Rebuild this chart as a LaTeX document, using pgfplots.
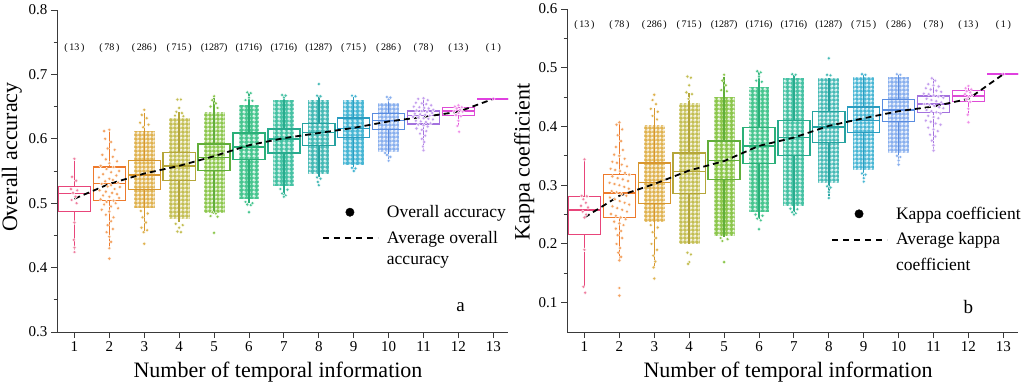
\documentclass[border=0pt]{standalone}
\usepackage{pgfplots}
\pgfplotsset{compat=1.18}
\usepgfplotslibrary{statistics}
\usetikzlibrary{patterns.meta}
\usepackage{fontspec}
\setmainfont{Liberation Serif}

\definecolor{axgray}{HTML}{3A3A3A}
\definecolor{b1}{HTML}{E8457A}\definecolor{d1}{HTML}{EF7FA0}
\definecolor{b2}{HTML}{EE7A2C}\definecolor{d2}{HTML}{F4A260}
\definecolor{b3}{HTML}{D8962E}\definecolor{d3}{HTML}{DFB24E}
\definecolor{b4}{HTML}{B5A63A}\definecolor{d4}{HTML}{C4BE52}
\definecolor{b5}{HTML}{62AE3A}\definecolor{d5}{HTML}{8CC74C}
\definecolor{b6}{HTML}{2BB079}\definecolor{d6}{HTML}{48C690}
\definecolor{b7}{HTML}{28AB8E}\definecolor{d7}{HTML}{46C2A4}
\definecolor{b8}{HTML}{26A2A0}\definecolor{d8}{HTML}{46BAB6}
\definecolor{b9}{HTML}{2A9CC0}\definecolor{d9}{HTML}{47B6D4}
\definecolor{b10}{HTML}{5A8CE0}\definecolor{d10}{HTML}{88AFEE}
\definecolor{b11}{HTML}{A472DE}\definecolor{d11}{HTML}{C49EEE}
\definecolor{b12}{HTML}{DE4CD6}\definecolor{d12}{HTML}{F08EE8}
\definecolor{b13}{HTML}{E040E0}

\tikzdeclarepattern{
  name=wdots,
  type=uncolored,
  bottom left={(0pt,0pt)},
  top right={(4.4pt,4.4pt)},
  tile size={(4.4pt,4.4pt)},
  code={
    \pgfsetlinewidth{0.7pt}
    \pgfpathcircle{\pgfpoint{2.2pt}{2.2pt}}{1.4pt}
    \pgfusepath{stroke}
  }
}

\pgfplotsset{
  myaxis/.style={
    scale only axis, width=451pt,
    xmin=0.5, xmax=13.42,
    axis lines*=left,
    axis line style={line width=1pt, color=axgray},
    tick align=outside,
    tick style={line width=0.9pt, color=axgray},
    major tick length=6pt, minor tick length=3.5pt,
    xtick={1,...,13},
    minor y tick num=1,
    /pgf/number format/assume math mode=true,
    tick label style={font=\fontsize{15}{17}\selectfont},
    yticklabel style={/pgf/number format/.cd, fixed, fixed zerofill, precision=1},
    label style={font=\fontsize{22}{26}\selectfont},
    xlabel={Number of temporal information},
    x label style={at={(axis description cs:0.49,-0.125)}, anchor=center},
    legend style={draw=none, fill=none, inner sep=0pt, row sep=8pt,
      font=\fontsize{17.5}{20}\selectfont},
    legend cell align=left,
  },
  col/.style={fill=#1, draw=none, forget plot, postaction={pattern=wdots, pattern color=white}},
  dots/.style={only marks, mark=*, mark size=1.8pt, forget plot,
    mark options={fill=#1, draw=white, line width=0.35pt}},
  bx/.style={draw=#1, line width=1.4pt, solid, forget plot},
  bp/.style n args={6}{boxplot prepared={draw direction=y, draw position=#1,
    lower whisker=#2, lower quartile=#3, median=#4, upper quartile=#5,
    upper whisker=#6, box extend=0.92, whisker extend=0}},
  meanline/.style={black, line width=1.8pt, dash pattern=on 6pt off 4pt, forget plot},
  counts/.style={draw=none, mark=none, forget plot, nodes near coords,
    point meta=explicit symbolic,
    nodes near coords style={anchor=center, font=\fontsize{10}{11}\selectfont, text=black}},
}

\begin{document}
\begin{tikzpicture}
\useasboundingbox (0,0) rectangle (1032pt,386pt);

% ---------------- panel a ----------------
\begin{axis}[myaxis, at={(57pt,54pt)}, anchor=south west, height=322pt,
  ymin=0.3, ymax=0.8, ytick={0.3,0.4,0.5,0.6,0.7,0.8},
  ylabel={Overall accuracy},
  y label style={at={(axis description cs:-0.10,0.543)}, anchor=center},
  legend style={at={(axis description cs:0.587,0.40)}, anchor=north west}]

\addplot[col=d3] coordinates {(2.7,0.492)(3.3,0.492)(3.3,0.612)(2.7,0.612)};
\addplot[col=d4] coordinates {(3.7,0.475)(4.3,0.475)(4.3,0.632)(3.7,0.632)};
\addplot[col=d5] coordinates {(4.7,0.485)(5.3,0.485)(5.3,0.642)(4.7,0.642)};
\addplot[col=d6] coordinates {(5.7,0.506)(6.3,0.506)(6.3,0.653)(5.7,0.653)};
\addplot[col=d7] coordinates {(6.7,0.526)(7.3,0.526)(7.3,0.660)(6.7,0.660)};
\addplot[col=d8] coordinates {(7.7,0.546)(8.3,0.546)(8.3,0.660)(7.7,0.660)};
\addplot[col=d9] coordinates {(8.7,0.559)(9.3,0.559)(9.3,0.660)(8.7,0.660)};
\addplot[col=d10] coordinates {(9.7,0.580)(10.3,0.580)(10.3,0.656)(9.7,0.656)};

\addplot[dots=d1] coordinates {(1.0,0.569)(0.93,0.541)(1.05,0.535)(0.9,0.522)(1.08,0.52)(0.96,0.516)(1.03,0.51)(0.92,0.505)(1.06,0.5)(1.0,0.47)(0.98,0.443)(1.0,0.431)(1.0,0.424)};
\addplot[dots=d2] coordinates {(1.85,0.612)(2.0,0.614)(1.88,0.600)(2.05,0.595)(1.95,0.585)(2.15,0.583)(1.8,0.575)(2.1,0.572)(1.9,0.568)(2.22,0.565)(2.0,0.562)(1.75,0.558)(2.12,0.556)(1.92,0.553)(2.28,0.550)(2.05,0.548)(1.82,0.545)(2.2,0.543)(1.7,0.540)(2.0,0.538)(2.1,0.536)(1.88,0.534)(2.25,0.532)(1.78,0.530)(2.05,0.528)(1.95,0.526)(2.3,0.525)(2.15,0.522)(1.72,0.520)(1.9,0.518)(2.08,0.516)(2.22,0.514)(1.82,0.512)(2.0,0.510)(2.28,0.508)(1.75,0.506)(2.12,0.504)(1.92,0.502)(2.18,0.500)(1.85,0.498)(2.05,0.495)(2.25,0.492)(1.78,0.490)(2.0,0.487)(1.9,0.482)(2.12,0.478)(2.05,0.472)(1.95,0.466)(2.1,0.460)(1.92,0.455)(2.0,0.448)(2.05,0.440)(2.0,0.430)(2.0,0.414)};
\addplot[dots=d3] coordinates {(3.00,0.645)(2.93,0.637)(3.07,0.632)(2.88,0.625)(3.12,0.622)(2.97,0.618)(2.9,0.488)(3.1,0.484)(2.95,0.478)(3.05,0.470)(2.92,0.462)(3.08,0.458)(2.98,0.455)(3.0,0.437)};
\addplot[dots=d4] coordinates {(3.95,0.661)(4.05,0.661)(4.0,0.648)(3.92,0.642)(4.08,0.64)(3.88,0.636)(4.12,0.635)(3.9,0.468)(4.1,0.466)(4.0,0.462)(3.95,0.456)(4.05,0.455)};
\addplot[dots=d5] coordinates {(5.0,0.666)(4.95,0.66)(5.05,0.655)(4.9,0.65)(5.1,0.648)(4.9,0.48)(5.1,0.479)(4.95,0.486)(5.05,0.484)(5.0,0.454)};
\addplot[dots=d6] coordinates {(5.95,0.672)(6.05,0.671)(6.0,0.664)(5.9,0.660)(6.1,0.659)(5.9,0.502)(6.1,0.500)(5.95,0.498)(6.05,0.497)(6.0,0.486)};
\addplot[dots=d7] coordinates {(6.95,0.668)(7.05,0.667)(7.0,0.664)(6.9,0.522)(7.1,0.521)(6.95,0.515)(7.05,0.512)(7.0,0.510)};
\addplot[dots=d8] coordinates {(8.0,0.685)(7.95,0.667)(8.05,0.666)(7.95,0.54)(8.05,0.538)(8.0,0.528)(7.97,0.533)};
\addplot[dots=d9] coordinates {(8.95,0.667)(9.05,0.666)(8.95,0.555)(9.05,0.554)(9.0,0.550)};
\addplot[dots=d10] coordinates {(9.95,0.665)(10.05,0.664)(10.0,0.661)(9.95,0.575)(10.05,0.572)(10.0,0.566)(9.9,0.578)};
\addplot[dots=d11] coordinates {(10.85,0.662)(11.0,0.663)(11.12,0.660)(10.78,0.656)(10.95,0.655)(11.08,0.654)(11.22,0.652)(10.72,0.650)(10.88,0.649)(11.02,0.648)(11.15,0.647)(11.28,0.645)(10.8,0.644)(10.95,0.643)(11.1,0.642)(11.25,0.640)(10.75,0.639)(10.9,0.638)(11.05,0.637)(11.18,0.636)(10.7,0.634)(10.85,0.633)(11.0,0.632)(11.14,0.631)(11.27,0.630)(10.78,0.628)(10.92,0.627)(11.07,0.626)(11.2,0.624)(10.85,0.622)(11.0,0.621)(11.12,0.619)(10.8,0.616)(10.95,0.614)(11.08,0.612)(10.9,0.608)(11.05,0.605)(10.95,0.600)(11.02,0.595)(10.98,0.588)(11.0,0.582)};
\addplot[dots=d12] coordinates {(12.0,0.652)(11.9,0.650)(12.1,0.649)(11.95,0.647)(12.05,0.645)(11.88,0.643)(12.12,0.642)(12.0,0.640)(11.93,0.637)(12.07,0.635)(12.0,0.628)(11.97,0.62)(12.02,0.611)};
\addplot[dots=b13] coordinates {(13,0.662)};

\addplot[bx=b1, bp={1}{0.428}{0.487}{0.515}{0.526}{0.569}] coordinates {};
\addplot[bx=b2, bp={2}{0.429}{0.504}{0.531}{0.556}{0.614}] coordinates {};
\addplot[bx=b3, bp={3}{0.454}{0.521}{0.544}{0.566}{0.640}] coordinates {};
\addplot[bx=b4, bp={4}{0.471}{0.535}{0.558}{0.579}{0.642}] coordinates {};
\addplot[bx=b5, bp={5}{0.484}{0.551}{0.571}{0.592}{0.663}] coordinates {};
\addplot[bx=b6, bp={6}{0.500}{0.568}{0.587}{0.609}{0.671}] coordinates {};
\addplot[bx=b7, bp={7}{0.510}{0.578}{0.600}{0.615}{0.668}] coordinates {};
\addplot[bx=b8, bp={8}{0.541}{0.590}{0.610}{0.624}{0.668}] coordinates {};
\addplot[bx=b9, bp={9}{0.552}{0.602}{0.616}{0.632}{0.665}] coordinates {};
\addplot[bx=b10, bp={10}{0.566}{0.614}{0.628}{0.639}{0.665}] coordinates {};
\addplot[bx=b11, bp={11}{0.582}{0.623}{0.636}{0.643}{0.663}] coordinates {};
\addplot[bx=b12, bp={12}{0.620}{0.636}{0.643}{0.649}{0.652}] coordinates {};
\addplot[bx=b13, bp={13}{0.662}{0.662}{0.662}{0.662}{0.662}] coordinates {};

\addplot[meanline] coordinates {(1,0.507)(2,0.530)(3,0.546)(4,0.558)(5,0.573)(6,0.590)(7,0.601)(8,0.609)(9,0.617)(10,0.627)(11,0.634)(12,0.642)(13,0.662)};

\addplot[counts] coordinates {(1,0.741)[(\,13\,)] (2,0.741)[(\,78\,)] (3,0.741)[(\,286\,)] (4,0.741)[(\,715\,)] (5,0.741)[(1287)] (6,0.741)[(1716)] (7,0.741)[(1716)] (8,0.741)[(1287)] (9,0.741)[(\,715\,)] (10,0.741)[(\,286\,)] (11,0.741)[(\,78\,)] (12,0.741)[(\,13\,)] (13,0.741)[(\,1\,)]};

\addlegendimage{legend image code/.code={\fill[black] (27pt,0pt) circle (4.2pt); \path[draw=none] (0pt,0pt) -- (62pt,0pt);}}
\addlegendentry{Overall accuracy}
\addlegendimage{legend image code/.code={\draw[black, line width=2pt, dash pattern=on 6pt off 5pt] (0pt,0pt) -- (55pt,0pt); \path[draw=none] (0pt,0pt) -- (62pt,0pt);}}
\addlegendentry{Average overall}
\addlegendimage{empty legend}
\addlegendentry{accuracy}

\node[font=\fontsize{19}{22}\selectfont] at (axis cs:12.06,0.338) {a};
\end{axis}

% ---------------- panel b ----------------
\begin{axis}[myaxis, at={(567pt,54pt)}, anchor=south west, height=323pt,
  ymin=0.05, ymax=0.6, ytick={0.1,0.2,0.3,0.4,0.5,0.6},
  ylabel={Kappa coefficient},
  y label style={at={(axis description cs:-0.095,0.526)}, anchor=center},
  legend style={at={(axis description cs:0.585,0.394)}, anchor=north west}]

\addplot[col=d3] coordinates {(2.7,0.237)(3.3,0.237)(3.3,0.403)(2.7,0.403)};
\addplot[col=d4] coordinates {(3.7,0.200)(4.3,0.200)(4.3,0.440)(3.7,0.440)};
\addplot[col=d5] coordinates {(4.7,0.214)(5.3,0.214)(5.3,0.451)(4.7,0.451)};
\addplot[col=d6] coordinates {(5.7,0.254)(6.3,0.254)(6.3,0.468)(5.7,0.468)};
\addplot[col=d7] coordinates {(6.7,0.264)(7.3,0.264)(7.3,0.482)(6.7,0.482)};
\addplot[col=d8] coordinates {(7.7,0.304)(8.3,0.304)(8.3,0.482)(7.7,0.482)};
\addplot[col=d9] coordinates {(8.7,0.326)(9.3,0.326)(9.3,0.485)(8.7,0.485)};
\addplot[col=d10] coordinates {(9.7,0.355)(10.3,0.355)(10.3,0.485)(9.7,0.485)};

\addplot[dots=d1] coordinates {(1.0,0.344)(0.92,0.282)(1.07,0.281)(0.97,0.276)(1.04,0.27)(0.9,0.265)(1.1,0.262)(0.95,0.255)(1.05,0.25)(1.0,0.245)(1.0,0.19)(0.97,0.127)(1.02,0.117)};
\addplot[dots=d2] coordinates {(2.0,0.407)(1.92,0.403)(2.08,0.395)(1.95,0.385)(2.05,0.375)(1.9,0.365)(2.1,0.36)(1.85,0.352)(2.0,0.35)(2.15,0.345)(1.8,0.34)(1.93,0.338)(2.07,0.335)(2.22,0.332)(1.75,0.328)(1.88,0.326)(2.02,0.324)(2.16,0.321)(2.28,0.318)(1.8,0.315)(1.95,0.312)(2.1,0.31)(2.25,0.307)(1.72,0.304)(1.86,0.302)(2.0,0.3)(2.14,0.297)(2.27,0.294)(1.78,0.29)(1.92,0.288)(2.06,0.285)(2.2,0.282)(1.73,0.279)(1.87,0.276)(2.01,0.273)(2.15,0.27)(2.28,0.267)(1.8,0.264)(1.94,0.261)(2.08,0.258)(2.22,0.255)(1.76,0.251)(1.9,0.248)(2.04,0.245)(2.18,0.242)(1.85,0.238)(2.0,0.235)(2.12,0.232)(1.9,0.226)(2.05,0.222)(1.95,0.215)(2.08,0.21)(1.92,0.2)(2.02,0.193)(1.97,0.185)(2.05,0.178)(2.0,0.172)(2.0,0.125)(2.0,0.112)};
\addplot[dots=d3] coordinates {(3.0,0.454)(2.95,0.445)(3.05,0.438)(2.9,0.43)(3.1,0.425)(2.95,0.418)(3.08,0.412)(2.9,0.232)(3.1,0.228)(2.95,0.22)(3.05,0.21)(2.92,0.2)(3.08,0.19)(2.97,0.18)(3.03,0.17)(2.98,0.16)(3.0,0.141)};
\addplot[dots=d4] coordinates {(3.95,0.485)(4.05,0.483)(4.0,0.47)(3.92,0.458)(4.08,0.455)(3.98,0.447)(3.95,0.185)(4.05,0.182)(4.0,0.169)(3.97,0.166)};
\addplot[dots=d5] coordinates {(5.0,0.488)(4.95,0.478)(5.05,0.47)(4.92,0.462)(5.08,0.46)(4.9,0.21)(5.1,0.208)(4.95,0.205)(5.0,0.169)};
\addplot[dots=d6] coordinates {(5.95,0.494)(6.05,0.492)(6.0,0.485)(5.92,0.478)(6.08,0.476)(5.9,0.25)(6.1,0.248)(5.95,0.243)(6.05,0.24)(6.0,0.225)};
\addplot[dots=d7] coordinates {(6.95,0.489)(7.05,0.488)(6.9,0.26)(7.1,0.259)(6.95,0.254)(7.05,0.252)(7.0,0.25)};
\addplot[dots=d8] coordinates {(8.0,0.516)(7.95,0.488)(8.05,0.487)(7.95,0.298)(8.05,0.296)(8.0,0.288)(8.0,0.278)};
\addplot[dots=d9] coordinates {(8.95,0.489)(9.05,0.488)(8.95,0.32)(9.05,0.318)(9.0,0.312)(9.0,0.306)};
\addplot[dots=d10] coordinates {(9.95,0.489)(10.05,0.488)(9.95,0.35)(10.05,0.348)(10.0,0.342)(10.0,0.335)};
\addplot[dots=d11] coordinates {(10.95,0.482)(11.05,0.478)(10.85,0.472)(11.0,0.470)(11.15,0.468)(10.78,0.465)(10.92,0.463)(11.08,0.461)(11.22,0.459)(10.72,0.456)(10.86,0.455)(11.0,0.453)(11.14,0.451)(11.28,0.449)(10.8,0.447)(10.94,0.445)(11.08,0.443)(11.22,0.441)(10.74,0.438)(10.88,0.437)(11.02,0.435)(11.16,0.433)(11.28,0.431)(10.8,0.428)(10.94,0.426)(11.08,0.424)(11.2,0.422)(10.85,0.418)(11.0,0.416)(11.14,0.414)(10.78,0.41)(10.92,0.408)(11.06,0.405)(11.2,0.403)(10.85,0.398)(11.0,0.395)(11.12,0.392)(10.9,0.386)(11.05,0.383)(10.95,0.376)(11.0,0.368)(11.0,0.359)};
\addplot[dots=d12] coordinates {(12.0,0.469)(11.92,0.465)(12.08,0.463)(11.95,0.460)(12.05,0.458)(11.9,0.455)(12.1,0.453)(12.0,0.450)(11.95,0.446)(12.05,0.442)(12.0,0.43)(11.98,0.42)(12.0,0.407)};
\addplot[dots=b13] coordinates {(13,0.489)};

\addplot[bx=b1, bp={1}{0.127}{0.216}{0.258}{0.281}{0.344}] coordinates {};
\addplot[bx=b2, bp={2}{0.172}{0.245}{0.287}{0.318}{0.407}] coordinates {};
\addplot[bx=b3, bp={3}{0.160}{0.269}{0.305}{0.338}{0.432}] coordinates {};
\addplot[bx=b4, bp={4}{0.200}{0.286}{0.323}{0.355}{0.457}] coordinates {};
\addplot[bx=b5, bp={5}{0.211}{0.310}{0.342}{0.375}{0.485}] coordinates {};
\addplot[bx=b6, bp={6}{0.242}{0.337}{0.367}{0.398}{0.492}] coordinates {};
\addplot[bx=b7, bp={7}{0.254}{0.351}{0.381}{0.410}{0.488}] coordinates {};
\addplot[bx=b8, bp={8}{0.281}{0.373}{0.399}{0.425}{0.482}] coordinates {};
\addplot[bx=b9, bp={9}{0.306}{0.390}{0.410}{0.433}{0.489}] coordinates {};
\addplot[bx=b10, bp={10}{0.335}{0.408}{0.428}{0.446}{0.489}] coordinates {};
\addplot[bx=b11, bp={11}{0.359}{0.424}{0.438}{0.452}{0.482}] coordinates {};
\addplot[bx=b12, bp={12}{0.420}{0.442}{0.452}{0.461}{0.469}] coordinates {};
\addplot[bx=b13, bp={13}{0.489}{0.489}{0.489}{0.489}{0.489}] coordinates {};

\addplot[meanline] coordinates {(1,0.245)(2,0.282)(3,0.302)(4,0.325)(5,0.341)(6,0.367)(7,0.381)(8,0.401)(9,0.414)(10,0.426)(11,0.434)(12,0.447)(13,0.489)};

\addplot[counts] coordinates {(1,0.573)[(\,13\,)] (2,0.573)[(\,78\,)] (3,0.573)[(\,286\,)] (4,0.573)[(\,715\,)] (5,0.573)[(1287)] (6,0.573)[(1716)] (7,0.573)[(1716)] (8,0.573)[(1287)] (9,0.573)[(\,715\,)] (10,0.573)[(\,286\,)] (11,0.573)[(\,78\,)] (12,0.573)[(\,13\,)] (13,0.573)[(\,1\,)]};

\addlegendimage{legend image code/.code={\fill[black] (27pt,0pt) circle (4.2pt); \path[draw=none] (0pt,0pt) -- (62pt,0pt);}}
\addlegendentry{Kappa coefficient}
\addlegendimage{legend image code/.code={\draw[black, line width=2pt, dash pattern=on 6pt off 5pt] (0pt,0pt) -- (55pt,0pt); \path[draw=none] (0pt,0pt) -- (62pt,0pt);}}
\addlegendentry{Average kappa}
\addlegendimage{empty legend}
\addlegendentry{coefficient}

\node[font=\fontsize{19}{22}\selectfont] at (axis cs:12.0,0.093) {b};
\end{axis}
\end{tikzpicture}
\end{document}
